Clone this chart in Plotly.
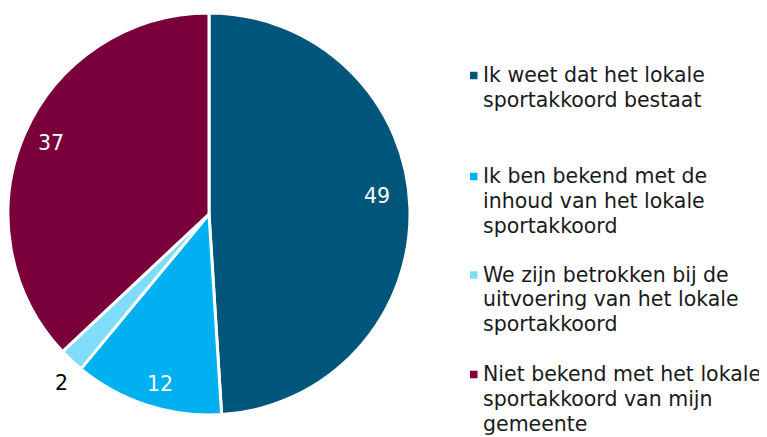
import math
import plotly.graph_objects as go

labels = [
    "Ik weet dat het lokale<br>sportakkoord bestaat",
    "Ik ben bekend met de<br>inhoud van het lokale<br>sportakkoord",
    "We zijn betrokken bij de<br>uitvoering van het lokale<br>sportakkoord",
    "Niet bekend met het lokale<br>sportakkoord van mijn<br>gemeente",
]
values = [49, 12, 2, 37]
colors = ["#00567a", "#00b0f0", "#7fdcfb", "#7a003c"]
label_colors = ["white", "white", "black", "white"]
label_radius = [0.84, 0.88, 1.115, 0.86]   # fraction of pie radius
label_shift = [-4.3, -2.0, -2.2, 0.8]      # degrees, Excel best-fit placement
legend_first_line = [75, 176, 274.5, 374]  # px centre of first text line
LINE = 24.8                                # legend line spacing, px

W, H = 767, 437
OFF = 8  # page body margin of the written html

def px(x):
    return (x - OFF) / W

def py(y):
    return 1 - (y - OFF) / H

# pie geometry in page pixels
cx, cy, R = 209, 214, 201

fig = go.Figure(go.Pie(
    labels=labels,
    values=values,
    sort=False,
    direction="clockwise",
    rotation=0,
    marker=dict(colors=colors, line=dict(color="white", width=3)),
    textinfo="none",
    domain=dict(x=[px(cx - R), px(cx + R)], y=[py(cy + R), py(cy - R)]),
    hoverinfo="label+value",
    showlegend=False,
))

annotations = []
shapes = []

# value labels along each slice's middle angle
total = sum(values)
cum = 0
for v, col, rf, sh in zip(values, label_colors, label_radius, label_shift):
    mid = math.radians((cum + v / 2) / total * 360 + sh)
    cum += v
    x = cx + rf * R * math.sin(mid)
    y = cy - rf * R * math.cos(mid)
    annotations.append(dict(
        x=px(x), y=py(y), xref="paper", yref="paper",
        text=str(v), showarrow=False,
        font=dict(family="DejaVu Sans", size=20.5, color=col),
        xanchor="center", yanchor="middle",
    ))

# legend (one annotation per text line for Excel-like line spacing)
for lab, col, y0 in zip(labels, colors, legend_first_line):
    for i, line in enumerate(lab.split("<br>")):
        annotations.append(dict(
            x=px(481), y=py(y0 + i * LINE), xref="paper", yref="paper",
            text=line, showarrow=False, align="left",
            font=dict(family="DejaVu Sans", size=20.5, color="#1a1a1a"),
            xanchor="left", yanchor="middle",
        ))
    shapes.append(dict(
        type="rect", xref="paper", yref="paper",
        x0=px(470), x1=px(477.5), y0=py(y0 + 4.25), y1=py(y0 - 3.25),
        fillcolor=col, line=dict(width=0),
    ))

fig.update_layout(
    width=W, height=H,
    margin=dict(l=0, r=0, t=0, b=0),
    paper_bgcolor="white",
    font=dict(family="DejaVu Sans", size=20, color="#1a1a1a"),
    annotations=annotations,
    shapes=shapes,
)

fig.write_html("out.html")
